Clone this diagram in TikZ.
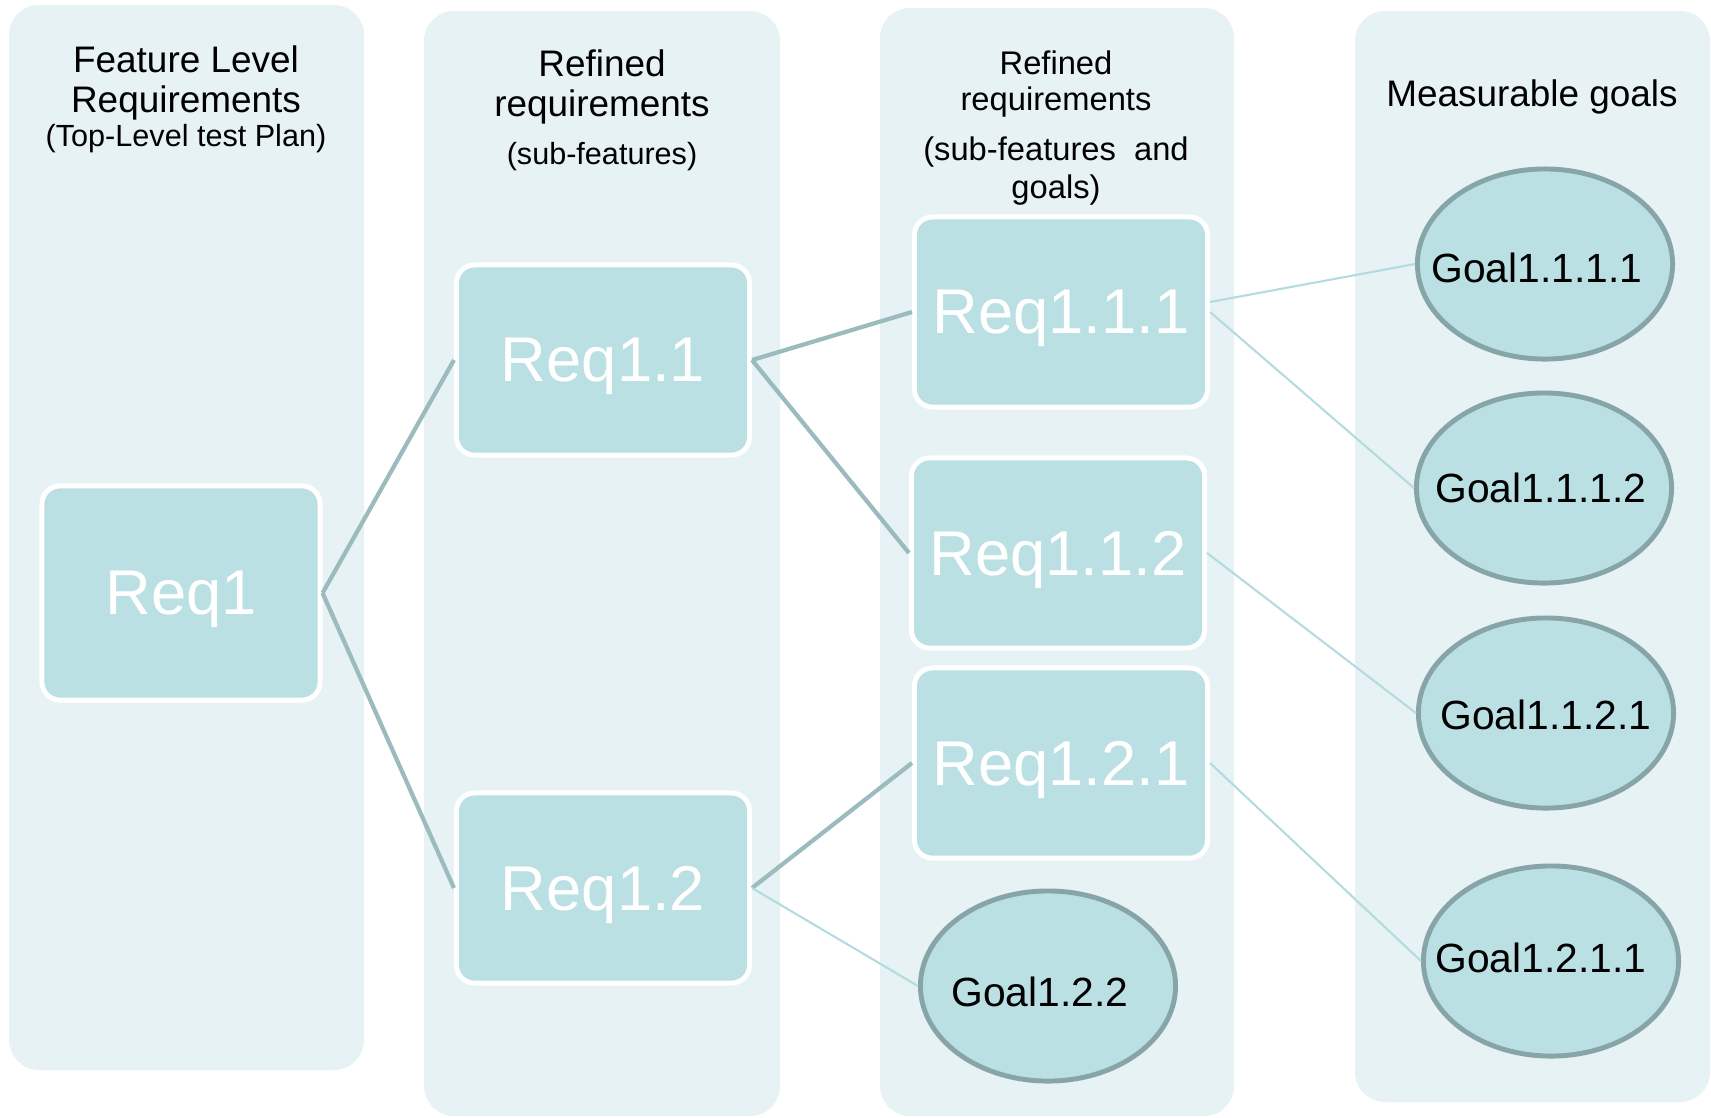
\documentclass[tikz,border=0pt]{standalone}
\usepackage{fontspec}
\setmainfont{Liberation Sans}
\usetikzlibrary{shapes.geometric}
\definecolor{panelbg}{RGB}{230,242,244}
\definecolor{boxfill}{RGB}{187,224,227}
\definecolor{goalrim}{RGB}{135,165,168}
\definecolor{thickln}{RGB}{155,187,190}
\definecolor{thinln}{RGB}{180,220,224}

\begin{document}
\begin{tikzpicture}[x=0.01cm,y=-0.01cm,
    panel/.style={fill=panelbg,rounded corners=0.3cm},
    req/.style={shape=rectangle,draw=white,line width=1.4pt,fill=boxfill,rounded corners=0.18cm,
        text=white,font=\fontsize{18}{20}\selectfont,text depth=0pt,minimum width=2.93cm,minimum height=1.90cm},
    goal/.style={shape=ellipse,draw=goalrim,line width=1.4pt,fill=boxfill,
        minimum width=2.55cm,minimum height=1.90cm,inner sep=0pt},
    goaltext/.style={font=\fontsize{11.6}{13}\selectfont,text depth=0pt},
    head/.style={align=center,font=\fontsize{10.5}{11.4}\selectfont},
    subhead/.style={align=center,font=\fontsize{8.7}{10}\selectfont},
    thk/.style={draw=thickln,line width=1.2pt},
    thn/.style={draw=thinln,line width=0.6pt}]
\useasboundingbox(0,0)rectangle(1711,1117);
% columns
\fill[panel](9,5)rectangle(364,1070);
\fill[panel](424,11)rectangle(780,1116);
\fill[panel](880,8)rectangle(1234,1116);
\fill[panel](1355,11)rectangle(1710,1102);
% headers
\node[head](h1)at(186, 83){Feature Level\\Requirements};
\node[subhead](h1s)at(186, 139){(Top-Level test Plan)};
\node[head](h2)at(602, 87){Refined\\requirements};
\node[subhead](h2s)at(602, 157){(sub-features)};
\node[head,font=\fontsize{9.3}{10.2}\selectfont](h3)at(1056, 84){Refined\\requirements};
\node[head,font=\fontsize{9.3}{10.8}\selectfont](h3s)at(1056, 171){(sub-features\ \ and\\goals)};
\node[head](h4)at(1532, 97){Measurable goals};
% requirements
\node[req,minimum width=2.78cm,minimum height=2.14cm](r1)at(181, 593){Req1};
\node[req](r11)at(603, 360){Req1.1};
\node[req](r12)at(603, 888){Req1.2};
\node[req](r111)at(1061, 312){Req1.1.1};
\node[req](r112)at(1058, 553){Req1.1.2};
\node[req](r121)at(1061, 763){Req1.2.1};
% goals
\node[goal,label={[goaltext,xshift=-0.08cm,yshift=-0.06cm]center:Goal1.2.2}](g122)at(1048, 986){};
\node[goal,label={[goaltext,xshift=-0.08cm,yshift=-0.04cm]center:Goal1.1.1.1}](g1111)at(1545, 264){};
\node[goal,label={[goaltext,xshift=-0.03cm]center:Goal1.1.1.2}](g1112)at(1544, 488){};
\node[goal,label={[goaltext,yshift=-0.02cm]center:Goal1.1.2.1}](g1121)at(1546, 713){};
\node[goal,label={[goaltext,xshift=-0.1cm,yshift=0.03cm]center:Goal1.2.1.1}](g1211)at(1551, 961){};
% links
\path(r1.east) edge[thk] (r11.west)
    (r1.east) edge[thk] (r12.west)
    (r11.east) edge[thk] (r111.west)
    (r11.east) edge[thk] (r112.west)
    (r12.east) edge[thk] (r121.west)
    (r12.east) edge[thn] (g122.west)
    ([yshift=0.1cm]r111.east) edge[thn] (g1111.west)
    (r111.east) edge[thn] (g1112.west)
    (r112.east) edge[thn] (g1121.west)
    (r121.east) edge[thn] (g1211.west);
\end{tikzpicture}
\end{document}
